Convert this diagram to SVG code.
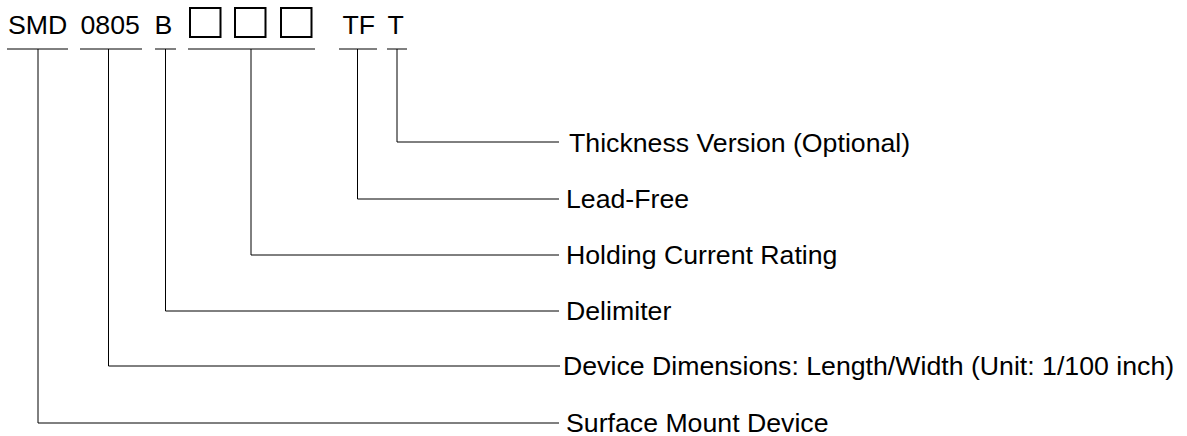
<svg xmlns="http://www.w3.org/2000/svg" width="1187" height="436" viewBox="0 0 1187 436">
<style>
text{font-family:"Liberation Sans",Arial,sans-serif;font-size:26.7px;fill:#000}
.ln{stroke:#000;stroke-width:1;fill:none}
.bx{stroke:#000;stroke-width:2;fill:none}
</style>
<rect width="1187" height="436" fill="#fff"/>
<g id="code">
<text x="8" y="33.5">SMD</text>
<text x="80.5" y="33.5">0805</text>
<text x="154.5" y="33.5">B</text>
<rect class="bx" x="190" y="8" width="30.5" height="29"/>
<rect class="bx" x="235" y="8" width="30.5" height="29"/>
<rect class="bx" x="281" y="8" width="30.5" height="29"/>
<text x="342.5" y="33.5">TF</text>
<text x="387.5" y="33.5">T</text>
</g>
<g id="connectors">
<path class="ln" d="M7 49H68 M80 49H142 M155 49H176 M188 49H315 M339 49H377 M387 49H407"/>
<path class="ln" d="M397 49V142H559"/>
<path class="ln" d="M357.5 49V199H559"/>
<path class="ln" d="M251 49V255H559"/>
<path class="ln" d="M165.5 49V311H559"/>
<path class="ln" d="M108.5 49V366H560"/>
<path class="ln" d="M38 49V423H559"/>
</g>
<g id="label-thickness"><text x="569" y="151.5">Thickness Version (Optional)</text></g>
<g id="label-leadfree"><text x="566" y="208">Lead-Free</text></g>
<g id="label-holding"><text x="566" y="264">Holding Current Rating</text></g>
<g id="label-delimiter"><text x="566" y="320">Delimiter</text></g>
<g id="label-dimensions"><text x="563" y="375">Device Dimensions: Length/Width (Unit: 1/100 inch)</text></g>
<g id="label-smd"><text x="566" y="432">Surface Mount Device</text></g>
</svg>
